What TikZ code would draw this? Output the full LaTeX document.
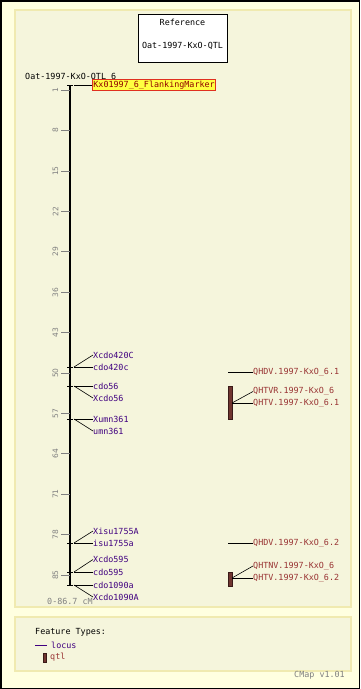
\documentclass[tikz,border=0pt]{standalone}
\usepackage{fontspec}
\setmonofont{DejaVu Sans Mono}
\setsansfont{DejaVu Sans}
\definecolor{outerbg}{HTML}{FFFFE0}
\definecolor{panelbg}{HTML}{F5F5DC}
\definecolor{panelln}{HTML}{F0EAB0}
\definecolor{locuscol}{HTML}{400080}
\definecolor{qtlcol}{HTML}{993333}
\definecolor{barfill}{HTML}{703530}
\definecolor{bardraw}{HTML}{3A1A18}
\definecolor{rulergrey}{HTML}{808080}
\definecolor{markfill}{HTML}{FFFF40}
\definecolor{markdraw}{HTML}{E03020}
\definecolor{marktext}{HTML}{900000}
\tikzset{
  mono/.style={font=\fontsize{8.4}{9}\selectfont\ttfamily, inner sep=0pt},
  locuslab/.style={mono, text=locuscol, anchor=west},
  qtllab/.style={mono, text=qtlcol, anchor=west},
  rulerlab/.style={font=\fontsize{7.5}{8}\selectfont\sffamily, text=rulergrey, rotate=90, inner sep=0pt},
  rulertick/.style={draw=rulergrey, line width=0.8pt},
  ltick/.style={draw=black, line width=0.8pt},
  conn/.style={draw=black, line width=0.6pt},
  qbar/.style={fill=barfill, draw=bardraw, line width=0.6pt},
  panel/.style={fill=panelbg, draw=panelln, line width=2pt},
}
\begin{document}
\begin{tikzpicture}[x=1pt,y=-1pt]
\useasboundingbox (0,0) rectangle (360,689);
\fill[outerbg] (0,0) rectangle (360,689);
\draw[black, line width=1.5pt] (0.75,0.75) rectangle (359.25,688.25);
\draw[panel] (15,10) rectangle (351,607);
\draw[panel] (15,617) rectangle (351,671);

% reference box
\node[draw=black, fill=white, line width=0.8pt, minimum width=89pt, minimum height=48pt, inner sep=0pt] (refbox) at (182.5,38) {};
\node[mono] (reftitle) at (182.5,22) {Reference};
\node[mono] (refname) at (182.5,46) {Oat-1997-KxO-QTL};

% map title
\node[mono, anchor=west] (maptitle) at (25,77) {Oat-1997-KxO-QTL\_6};

% axis
\coordinate (axtop) at (70,85);
\coordinate (axbot) at (70,585);
\draw[black, line width=2.2pt] (axtop) -- (axbot);
\draw[ltick] (67,85) -- (73,85);

% ruler ticks and labels
\foreach \v/\y in {1/90,8/130.6,15/171,22/211.4,29/251.8,36/292.3,43/332.7,50/373,57/413.4,64/453.8,71/494.2,78/534.6,85/575}{
  \draw[rulertick] (61,\y) -- (70,\y);
  \node[rulerlab] (r\v) at (55.5,\y) {\v};
}
\node[mono, text=rulergrey, anchor=west] (range) at (47,601) {0-86.7 cM};

% flanking marker
\node[mono, fill=markfill, draw=markdraw, line width=0.8pt, text=marktext, anchor=west, inner xsep=1pt, inner ysep=1pt, minimum height=9pt] (flank) at (92,85) {Kx01997\_6\_FlankingMarker};
\draw[conn] (74,85) -- (flank.west);

% loci
\foreach \n/\t/\y/\ty in {xa/Xcdo420C/355/367, a/cdo420c/367/367,
  b/cdo56/386/386, xb/Xcdo56/398/386,
  xc/Xumn361/419/419, c/umn361/431/419,
  xd/Xisu1755A/531/543, d/isu1755a/543/543,
  xe/Xcdo595/559.5/572, e/cdo595/572/572,
  f/cdo1090a/585/585, xf/Xcdo1090A/597/585}{
  \node[locuslab] (loc\n) at (93,\y) {\t};
  \draw[ltick] (67,\ty) -- (73,\ty);
  \draw[conn] (74,\ty) -- (loc\n.west);
}

% QTLs
\node[qtllab] (qhdv1) at (253,372.5) {QHDV.1997-KxO\_6.1};
\coordinate (qhdv1s) at (228,372.5);
\draw[conn] (qhdv1s) -- (qhdv1.west);
\draw[qbar] (228,386) rectangle (232,419);
\coordinate (bar1) at (232,403);
\node[qtllab] (qhtvr) at (253,391.5) {QHTVR.1997-KxO\_6};
\node[qtllab] (qhtv1) at (253,403) {QHTV.1997-KxO\_6.1};
\draw[conn] (bar1) -- (qhtvr.west);
\draw[conn] (bar1) -- (qhtv1.west);

\node[qtllab] (qhdv2) at (253,543.5) {QHDV.1997-KxO\_6.2};
\coordinate (qhdv2s) at (228,543.5);
\draw[conn] (qhdv2s) -- (qhdv2.west);
\draw[qbar] (228,572) rectangle (232,586);
\coordinate (bar2) at (232,578);
\node[qtllab] (qhtnv) at (253,566) {QHTNV.1997-KxO\_6};
\node[qtllab] (qhtv2) at (253,578) {QHTV.1997-KxO\_6.2};
\draw[conn] (bar2) -- (qhtnv.west);
\draw[conn] (bar2) -- (qhtv2.west);

% legend
\node[mono, anchor=west] (ftypes) at (35,632) {Feature Types:};
\coordinate (legl) at (35,645);
\node[locuslab] (leglocus) at (51,645) {locus};
\draw[draw=locuscol, line width=0.8pt] (legl) -- (47,645);
\draw[qbar] (43,653) rectangle (46,662);
\node[qtllab] (legqtl) at (50,657.5) {qtl};
\node[mono, text=rulergrey, anchor=east] (version) at (345,675) {CMap v1.01};
\end{tikzpicture}
\end{document}
